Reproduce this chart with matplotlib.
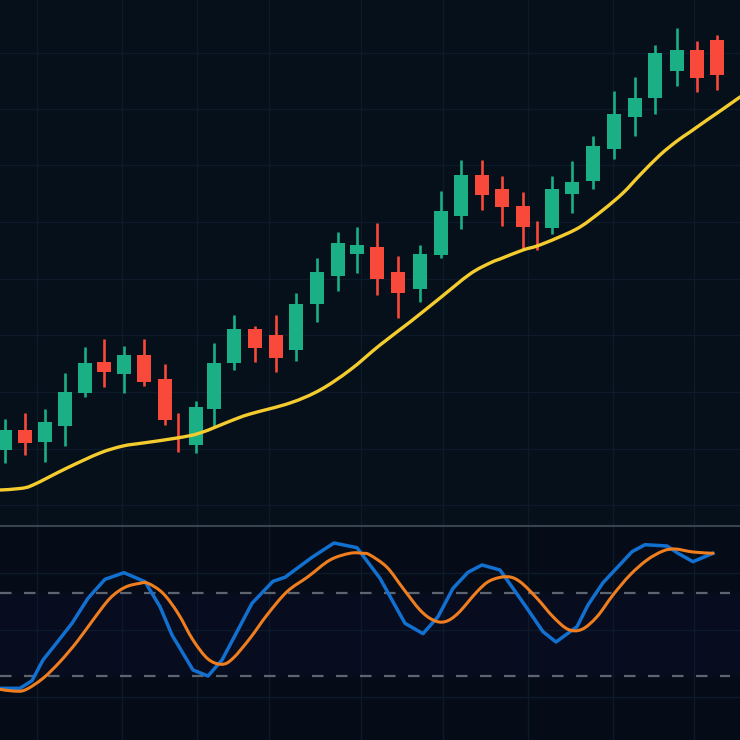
import matplotlib
matplotlib.use('Agg')
import matplotlib.pyplot as plt
from matplotlib.path import Path
from matplotlib.patches import PathPatch

# candles
candle_x = [5, 25, 45, 65, 85, 104, 124, 144, 165, 178, 196, 214, 234, 255, 276, 296, 317, 338, 357,
            377, 398, 420, 441, 461, 482, 502, 523, 537, 552, 572, 593, 614, 635, 655, 677, 697, 717]
opens = [76, 96, 84, 100, 133, 164, 152, 171, 147, 95, 81, 117, 163, 197, 191, 176, 222, 250, 272,
         279, 254, 237, 271, 310, 351, 337, 320, 290, 298, 332, 345, 377, 409, 428, 455, 476, 486]
closes = [96, 83, 104, 134, 163, 154, 171, 144, 106, 95, 119, 163, 197, 178, 168, 222, 254, 283, 281,
          247, 233, 272, 315, 351, 331, 319, 299, 290, 337, 344, 380, 412, 428, 473, 476, 448, 451]
highs = [107, 113, 117, 153, 179, 187, 180, 187, 162, 113, 125, 183, 211, 200, 211, 233, 268, 294, 299,
         303, 270, 281, 335, 366, 366, 350, 334, 305, 350, 365, 390, 435, 449, 481, 498, 485, 491]
lows = [63, 71, 64, 80, 129, 139, 133, 140, 101, 74, 73, 99, 156, 164, 154, 165, 204, 235, 253,
        231, 208, 224, 268, 297, 316, 300, 276, 276, 292, 313, 337, 367, 390, 412, 440, 434, 436]
down = [False, True, False, False, False, True, False, True, True, True, False, False, False, True, True,
        False, False, False, False, True, True, False, False, False, True, True, True, True, False, False,
        False, False, False, False, False, True, True]

# moving average
ma_x = [0, 20, 33, 67, 100, 123, 143, 177, 200, 233, 250, 290, 320, 350, 380, 410, 440, 470, 490, 500,
        523, 537, 557, 580, 603, 623, 640, 660, 677, 690, 707, 723, 740]
ma_y = [36, 37.5, 41, 58, 73, 80, 83, 88, 93, 106, 112, 123, 136, 156, 181, 204, 228, 252, 263, 267,
        276, 280, 288, 299, 316, 333, 351, 371, 385, 394, 406, 417, 429]

# oscillator
k_x = [0, 20, 32, 43, 55, 72, 88, 105, 124, 145, 160, 172, 193, 208, 222, 237, 252, 273, 285, 312, 334, 357, 370,
       380, 392, 405, 423, 438, 453, 468, 482, 500, 513, 527, 543, 556, 577, 588, 603, 618, 632, 645, 667, 678, 693, 713]
k_y = [51.7, 51.7, 59.3, 80, 95, 116.7, 141.7, 160.7, 167.3, 158.3, 133.3, 105, 70, 64, 80, 108.3, 136.7, 158.7,
       162.7, 182.7, 197, 192.3, 175,
       161.7, 140, 116.7, 106.3, 123.3, 151.7, 167.7, 175, 170, 151.7, 131.7, 108.3, 98, 113.3, 135, 157.3, 173.3,
       188.3, 195.3, 194, 186.7, 178.3, 186.7]
d_x = [0, 13, 25, 43, 60, 77, 93, 110, 125, 140, 148, 163, 178, 193, 208, 222, 233, 250, 267, 287, 308, 330, 350, 363, 370,
       387, 403, 420, 433, 445, 458, 477, 490, 507, 520, 537, 553, 568, 582, 597, 613, 630, 647, 663, 675, 693, 713]
d_y = [50.7, 49, 50, 61.7, 78.3, 98.3, 120, 141.7, 152.7, 156.7, 156.7, 146.7, 126.7, 100, 81, 75.7, 81.7, 101.7,
       125, 148.3, 163.3, 180, 186.7, 186.7, 185,
       172.7, 151.7, 130, 120, 118.3, 126.7, 148.3, 159.3, 163.3, 158.3, 141.7, 123.3, 110.7, 110.7, 123.3, 145,
       165, 180, 189, 191, 188, 186.7]
upper_band = 147
lower_band = 64

# grid positions
grid_x = [37, 122, 197, 269, 361, 443, 528, 613, 694]
price_grid = [21, 77, 134, 191, 247, 304, 361, 417, 473]
osc_grid = [43, 110, 167]

BG = '#06101b'
BG2 = '#050c18'
GREEN = '#1aaf85'
RED = '#f8493a'
GRID = '#0d1a2a'


def smooth_line(ax, xs, ys, **kw):
    # curve through the read points, catmull-rom as bezier segments
    verts = [(xs[0], ys[0])]
    codes = [Path.MOVETO]
    n = len(xs)
    for i in range(n - 1):
        x0, y0 = xs[max(i - 1, 0)], ys[max(i - 1, 0)]
        x1, y1 = xs[i], ys[i]
        x2, y2 = xs[i + 1], ys[i + 1]
        x3, y3 = xs[min(i + 2, n - 1)], ys[min(i + 2, n - 1)]
        verts += [(x1 + (x2 - x0) / 6, y1 + (y2 - y0) / 6),
                  (x2 - (x3 - x1) / 6, y2 - (y3 - y1) / 6),
                  (x2, y2)]
        codes += [Path.CURVE4, Path.CURVE4, Path.CURVE4]
    ax.add_patch(PathPatch(Path(verts, codes), fill=False, capstyle='round', **kw))


fig = plt.figure(figsize=(7.4, 7.4), dpi=100, facecolor=BG)
ax1 = fig.add_axes([0, 214 / 740, 1, 526 / 740])
ax2 = fig.add_axes([0, 0, 1, 214 / 740])

for ax, c in ((ax1, BG), (ax2, BG2)):
    ax.set_facecolor(c)
    ax.set_xlim(0, 740)
    ax.set_xticks(grid_x)
    ax.tick_params(length=0, labelbottom=False, labelleft=False)
    ax.grid(True, color=GRID, linewidth=1.0)
    ax.set_axisbelow(True)
    for s in ax.spines.values():
        s.set_visible(False)

ax1.set_ylim(0, 526)
ax1.set_yticks(price_grid)
ax2.set_ylim(0, 214)
ax2.set_yticks(osc_grid)

# candles
colors = [RED if d else GREEN for d in down]
ax1.vlines(candle_x, lows, highs, colors=colors, linewidth=1.9, zorder=2)
bottoms = [min(o, c) for o, c in zip(opens, closes)]
heights = [abs(o - c) for o, c in zip(opens, closes)]
ax1.bar(candle_x, heights, bottom=bottoms, width=14.5, color=colors, linewidth=0, zorder=3)
smooth_line(ax1, ma_x, ma_y, edgecolor='#f5cc2e', linewidth=2.4, zorder=4)

# oscillator
ax2.axhspan(lower_band, upper_band, color='#070c1f', linewidth=0, zorder=0)
ax2.plot([0, 730], [upper_band, upper_band], color='#5d6570', linewidth=1.6, dashes=(5.2, 5.6), zorder=2)
ax2.plot([0, 730], [lower_band, lower_band], color='#5d6570', linewidth=1.6, dashes=(5.2, 5.6), zorder=2)
ax2.plot(k_x, k_y, color='#1270d0', linewidth=2.5, zorder=3, solid_joinstyle='round')
smooth_line(ax2, d_x, d_y, edgecolor='#f07d1e', linewidth=2.2, zorder=4)
ax2.spines['top'].set_visible(True)
ax2.spines['top'].set_color('#39434f')
ax2.spines['top'].set_linewidth(1.5)

fig.savefig('out.png', dpi=100, facecolor=BG)
